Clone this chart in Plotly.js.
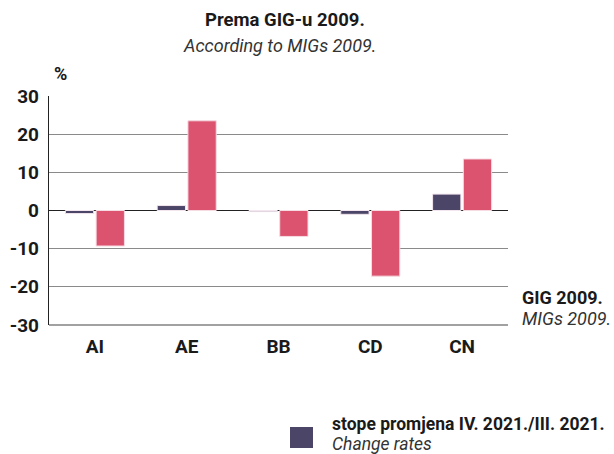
<!DOCTYPE html>
<html><head><meta charset="utf-8">
<script src="https://cdn.plot.ly/plotly-3.0.1.min.js"></script>
<style>html,body{margin:0;padding:0;background:#fff;}#chart{width:614px;height:454px;}</style>
</head><body><div id="chart"></div>
<script>
const categories = ['AI', 'AE', 'BB', 'CD', 'CN'];
const changeRatesMonth = [-0.8, 1.3, -0.3, -1.0, 4.3];
const changeRatesYear = [-9.3, 23.5, -6.8, -17.2, 13.5];
const yTicks = [-30, -20, -10, 0, 10, 20, 30];

const FONT = 'Roboto, Liberation Sans, sans-serif';

const traces = [
  {type: 'bar', x: categories, y: changeRatesMonth, name: 'stope promjena IV. 2021./III. 2021.',
   marker: {color: '#4b4567', line: {color: '#f3e6ee', width: 1}}, showlegend: false, hoverinfo: 'x+y'},
  {type: 'bar', x: categories, y: changeRatesYear, name: 'stope promjena',
   marker: {color: '#dc536f', line: {color: '#f6dbe2', width: 1}}, showlegend: false, hoverinfo: 'x+y'}
];

const layout = {
  width: 614, height: 454,
  margin: {l: 49, r: 106, t: 96, b: 129},
  paper_bgcolor: '#fff', plot_bgcolor: '#fff',
  barmode: 'group', bargap: 0.33, bargroupgap: 0.08,
  font: {family: FONT, color: '#1a1a1a', size: 17},
  xaxis: {
    showgrid: false, zeroline: false, showline: false, ticks: '',
    ticklabelstandoff: 8,
    tickfont: {family: FONT, size: 19, color: '#1a1a1a', weight: 'bold'},
    automargin: false
  },
  yaxis: {
    range: [-30, 30], tickvals: yTicks, ticktext: yTicks.map(String),
    showgrid: true, gridcolor: '#8a8a8a', gridwidth: 1,
    zeroline: true, zerolinecolor: '#222', zerolinewidth: 1.2,
    showline: true, linecolor: '#222', linewidth: 1.2,
    ticks: '', ticklen: 0, ticklabelstandoff: 5,
    tickfont: {family: FONT, size: 19, color: '#1a1a1a', weight: 'bold'},
    automargin: false
  },
  shapes: [
    {type: 'line', xref: 'paper', yref: 'paper', x0: 0, x1: 1, y0: 0, y1: 0, line: {color: '#444', width: 1.2}},
    {type: 'rect', xref: 'paper', yref: 'paper', x0: (290-49)/459, x1: (313-49)/459,
     y0: -(448-325)/229, y1: -(427-325)/229, fillcolor: '#4b4567', line: {width: 0}}
  ],
  annotations: [
    {text: '<b>Prema GIG-u 2009.</b>', xref: 'paper', yref: 'paper', x: (285-49)/459, y: 1 + (96-20)/229,
     showarrow: false, xanchor: 'center', yanchor: 'middle', font: {family: FONT, size: 18.5, color: '#1a1a1a'}},
    {text: '<i>According to MIGs 2009.</i>', xref: 'paper', yref: 'paper', x: (279-49)/459, y: 1 + (96-45)/229,
     showarrow: false, xanchor: 'center', yanchor: 'middle', font: {family: FONT, size: 18, color: '#333'}},
    {text: '<b>%</b>', xref: 'paper', yref: 'paper', x: (52-49)/459, y: 1 + (96-73)/229,
     showarrow: false, xanchor: 'left', yanchor: 'middle', font: {family: FONT, size: 18, color: '#1a1a1a'}},
    {text: '<b>GIG 2009.</b>', xref: 'paper', yref: 'paper', x: (520-49)/459, y: -(297-325)/229,
     showarrow: false, xanchor: 'left', yanchor: 'middle', font: {family: FONT, size: 18, color: '#1a1a1a'}},
    {text: '<i>MIGs 2009.</i>', xref: 'paper', yref: 'paper', x: (520-49)/459, y: -(318-325)/229,
     showarrow: false, xanchor: 'left', yanchor: 'middle', font: {family: FONT, size: 18, color: '#333'}},
    {text: '<b>stope promjena IV. 2021./III. 2021.</b>', xref: 'paper', yref: 'paper', x: (330-49)/459, y: -(424-325)/229,
     showarrow: false, xanchor: 'left', yanchor: 'middle', font: {family: FONT, size: 17.5, color: '#1a1a1a'}},
    {text: '<i>Change rates</i>', xref: 'paper', yref: 'paper', x: (330-49)/459, y: -(444-325)/229,
     showarrow: false, xanchor: 'left', yanchor: 'middle', font: {family: FONT, size: 17.5, color: '#333'}}
  ]
};

Plotly.newPlot('chart', traces, layout, {displayModeBar: false, staticPlot: true});
</script></body></html>
